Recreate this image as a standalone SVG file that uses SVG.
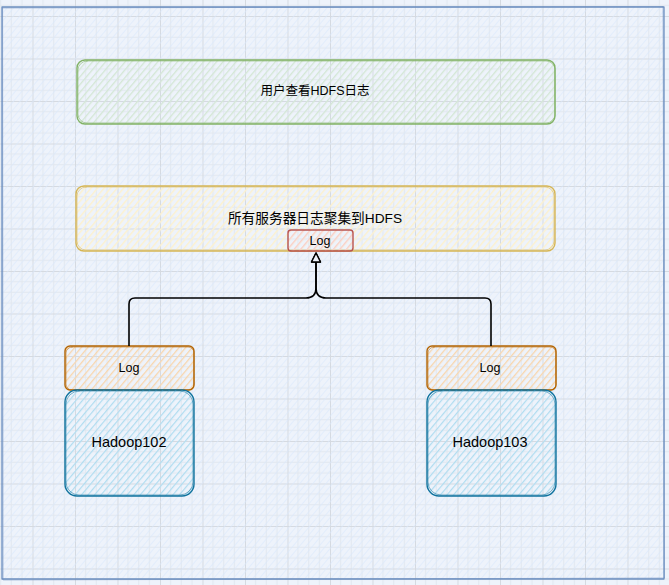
<svg xmlns="http://www.w3.org/2000/svg" width="669" height="585" viewBox="0 0 669 585">
  <defs>
    <pattern id="grid" patternUnits="userSpaceOnUse" x="32.5" y="16" width="42.5" height="42.5">
      <path d="M10.6 0V42.5M21.25 0V42.5M31.9 0V42.5M0 10.6H42.5M0 21.25H42.5M0 31.9H42.5" stroke="#e1e7ef" stroke-width="1" fill="none"/>
      <path d="M0.5 0V42.5M0 0.5H42.5" stroke="#d5dae1" stroke-width="1" fill="none"/>
    </pattern>
    <pattern id="hBlue" patternUnits="userSpaceOnUse" width="5" height="5" patternTransform="rotate(40)">
      <line x1="0" y1="0" x2="0" y2="5" stroke="#dae8fc" stroke-width="2"/>
    </pattern>
    <pattern id="hGreen" patternUnits="userSpaceOnUse" width="5" height="5" patternTransform="rotate(40)">
      <line x1="0" y1="0" x2="0" y2="5" stroke="#d5e8d4" stroke-width="2.6"/>
    </pattern>
    <pattern id="hYellow" patternUnits="userSpaceOnUse" width="5" height="5" patternTransform="rotate(40)">
      <line x1="0" y1="0" x2="0" y2="5" stroke="#fff2cc" stroke-width="2.8"/>
    </pattern>
    <pattern id="hRed" patternUnits="userSpaceOnUse" width="5" height="5" patternTransform="rotate(40)">
      <line x1="0" y1="0" x2="0" y2="5" stroke="#f8cecc" stroke-width="2.6"/>
    </pattern>
    <pattern id="hOrange" patternUnits="userSpaceOnUse" width="5" height="5" patternTransform="rotate(40)">
      <line x1="0" y1="0" x2="0" y2="5" stroke="#fad7ac" stroke-width="2.6"/>
    </pattern>
    <pattern id="hCyan" patternUnits="userSpaceOnUse" width="5" height="5" patternTransform="rotate(40)">
      <line x1="0" y1="0" x2="0" y2="5" stroke="#b1ddf0" stroke-width="2.4"/>
    </pattern>
    <marker id="arr" markerWidth="12" markerHeight="12" refX="10" refY="6" orient="auto" markerUnits="userSpaceOnUse">
      <path d="M1,1.5 L10,6 L1,10.5 Z" fill="#eef3fb" stroke="#000" stroke-width="1.4" stroke-linejoin="round"/>
    </marker>
    <style>
      .t { font-family: "Liberation Sans", "Noto Sans CJK SC", sans-serif; fill: #000; text-anchor: middle; dominant-baseline: central; }
      .sk { fill: none; stroke-linecap: round; stroke-linejoin: round; }
      .conn { fill: none; stroke: #000; stroke-width: 1.6; stroke-linejoin: round; }
    </style>
  </defs>

  <rect x="0" y="0" width="669" height="585" fill="#eef3fb"/>
  <rect x="0" y="0" width="669" height="585" fill="url(#grid)"/>

  <g id="container">
    <rect x="2" y="7" width="662" height="572" fill="url(#hBlue)" opacity="0.6"/>
    <rect x="2" y="7" width="662" height="572" class="sk" stroke="#6c8ebf" stroke-width="1.3"/>
    <path d="M3 8 L663 6.5 L664.5 578 L3.5 580 Z" class="sk" stroke="#6c8ebf" stroke-width="0.8" opacity="0.6"/>
  </g>

  <g id="user-view">
    <rect x="77" y="60" width="478" height="64" rx="8" fill="url(#hGreen)"/>
    <rect x="77" y="60" width="478" height="64" rx="8" class="sk" stroke="#82b366" stroke-width="1.4"/>
    <rect x="78" y="61" width="477" height="62" rx="9" class="sk" stroke="#82b366" stroke-width="0.8" opacity="0.7"/>
    <text class="t" x="315" y="91" font-size="12.5">用户查看HDFS日志</text>
  </g>

  <g id="aggregate">
    <rect x="76" y="186" width="479" height="65" rx="8" fill="url(#hYellow)"/>
    <rect x="76" y="186" width="479" height="65" rx="8" class="sk" stroke="#d6b656" stroke-width="1.4"/>
    <rect x="77" y="187" width="477" height="63" rx="9" class="sk" stroke="#d6b656" stroke-width="0.8" opacity="0.7"/>
    <text class="t" x="315" y="218.5" font-size="13.7">所有服务器日志聚集到HDFS</text>
  </g>

  <g id="hdfs-log">
    <rect x="288" y="230" width="65" height="21" rx="3" fill="url(#hRed)"/>
    <rect x="288" y="230" width="65" height="21" rx="3" class="sk" stroke="#b85450" stroke-width="1.4"/>
    <text class="t" x="320" y="241" font-size="12.5">Log</text>
  </g>

  <g id="log-102">
    <rect x="65" y="346" width="129" height="44" rx="5" fill="url(#hOrange)"/>
    <rect x="65" y="346" width="129" height="44" rx="5" class="sk" stroke="#b46504" stroke-width="1.4"/>
    <rect x="66" y="347" width="128" height="43" rx="6" class="sk" stroke="#b46504" stroke-width="0.8" opacity="0.7"/>
    <text class="t" x="129" y="368" font-size="12.5">Log</text>
  </g>

  <g id="hadoop102">
    <rect x="65" y="390" width="129" height="106" rx="12" fill="url(#hCyan)"/>
    <rect x="65" y="390" width="129" height="106" rx="12" class="sk" stroke="#10739e" stroke-width="1.4"/>
    <rect x="66" y="391" width="127" height="104" rx="13" class="sk" stroke="#10739e" stroke-width="0.8" opacity="0.7"/>
    <text class="t" x="129" y="442" font-size="14.5">Hadoop102</text>
  </g>

  <g id="log-103">
    <rect x="427" y="346" width="129" height="44" rx="5" fill="url(#hOrange)"/>
    <rect x="427" y="346" width="129" height="44" rx="5" class="sk" stroke="#b46504" stroke-width="1.4"/>
    <rect x="428" y="347" width="128" height="43" rx="6" class="sk" stroke="#b46504" stroke-width="0.8" opacity="0.7"/>
    <text class="t" x="490" y="368" font-size="12.5">Log</text>
  </g>

  <g id="hadoop103">
    <rect x="427" y="390" width="129" height="106" rx="12" fill="url(#hCyan)"/>
    <rect x="427" y="390" width="129" height="106" rx="12" class="sk" stroke="#10739e" stroke-width="1.4"/>
    <rect x="428" y="391" width="127" height="104" rx="13" class="sk" stroke="#10739e" stroke-width="0.8" opacity="0.7"/>
    <text class="t" x="490" y="442" font-size="14.5">Hadoop103</text>
  </g>

  <g id="connectors">
    <path class="conn" d="M129 346 L129 304 Q129 298 135 298 L306 298 Q316 298 316 288 L316 253" marker-end="url(#arr)"/>
    <path class="conn" d="M491 346 L491 304 Q491 298 485 298 L326 298 Q316 298 316 288 L316 253" marker-end="url(#arr)"/>
  </g>
</svg>
